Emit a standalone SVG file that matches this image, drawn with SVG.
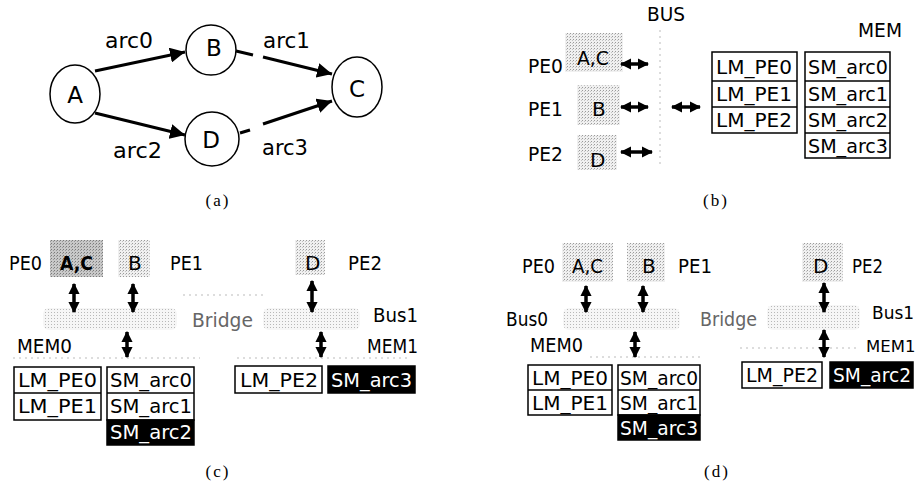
<svg xmlns="http://www.w3.org/2000/svg" width="921" height="487" viewBox="0 0 921 487">
<defs>
<style>
.t{font-family:"DejaVu Sans","Liberation Sans",sans-serif;font-size:20px;fill:#000}
.lbl{font-family:"DejaVu Sans","Liberation Sans",sans-serif;font-size:21px;fill:#000}
.node{font-family:"DejaVu Sans","Liberation Sans",sans-serif;font-size:23px;fill:#000;text-anchor:middle}
.bx{font-family:"DejaVu Sans","Liberation Sans",sans-serif;font-size:20px;fill:#000}
.inv{fill:#fff}
.cap{font-family:"Liberation Serif",serif;font-size:17px;letter-spacing:2px;fill:#000;text-anchor:middle}
.circ{fill:#fff;stroke:#000;stroke-width:1.5}
.cell{fill:#fff;stroke:#000;stroke-width:1.5}
.blk{fill:#000;stroke:#000;stroke-width:1.5}
.arc{stroke:#000;stroke-width:3;fill:none}
.dbl{stroke:#000;stroke-width:3.5;fill:none;marker-start:url(#dh);marker-end:url(#dh)}
.gray1{fill:url(#dots)}
.gray2{fill:url(#dotsDark)}
.cloud{fill:url(#dotsLight)}
.faint{stroke:#bbb;stroke-width:1;stroke-dasharray:2 4;fill:none}
.gtxt{fill:#666}
</style>
<marker id="ah" viewBox="0 0 10 10" refX="10" refY="5" markerWidth="5" markerHeight="5" markerUnits="strokeWidth" orient="auto">
<path d="M0,0 L10,5 L0,10 Z" fill="#000"/>
</marker>
<marker id="dh" viewBox="0 0 10 10" refX="9" refY="5" markerWidth="3.2" markerHeight="3.4" markerUnits="strokeWidth" orient="auto-start-reverse">
<path d="M0,0 L10,5 L0,10 Z" fill="#000"/>
</marker>
<pattern id="dots" width="3" height="3" patternUnits="userSpaceOnUse">
<rect width="3" height="3" fill="#f0f0f0"/>
<rect width="1" height="1" fill="#9a9a9a"/>
<rect x="2" y="1" width="1" height="1" fill="#c4c4c4"/>
</pattern>
<pattern id="dotsDark" width="3" height="3" patternUnits="userSpaceOnUse">
<rect width="3" height="3" fill="#c8c8c8"/>
<rect width="1" height="1" fill="#7a7a7a"/>
<rect x="2" y="1" width="1" height="1" fill="#999"/>
</pattern>
<pattern id="dotsLight" width="3" height="3" patternUnits="userSpaceOnUse">
<rect width="3" height="3" fill="#f6f6f6"/>
<rect width="1" height="1" fill="#b8b8b8"/>
</pattern>
</defs>
<rect width="921" height="487" fill="#fff"/>

<!-- Panel (a) -->
<g id="a-nodes">
<g id="a-A"><ellipse class="circ" cx="75" cy="94" rx="25" ry="29"/><text class="node" x="75" y="103">A</text></g>
<g id="a-B"><ellipse class="circ" cx="211" cy="50" rx="25" ry="25"/><text class="node" x="214" y="56">B</text></g>
<g id="a-D"><ellipse class="circ" cx="212" cy="139" rx="27" ry="27"/><text class="node" x="211" y="148">D</text></g>
<g id="a-C"><ellipse class="circ" cx="357" cy="87" rx="25" ry="30"/><text class="node" x="357" y="97">C</text></g>
</g>
<g id="a-connectors">
<line class="arc" x1="95" y1="71" x2="185" y2="52" marker-end="url(#ah)"/>
<line class="arc" x1="95" y1="113" x2="185" y2="135" marker-end="url(#ah)"/>
<line class="arc" x1="236" y1="51" x2="253" y2="55"/>
<line class="arc" x1="263" y1="57" x2="332" y2="74" marker-end="url(#ah)"/>
<line class="arc" x1="240" y1="133" x2="250" y2="130"/>
<line class="arc" x1="263" y1="124" x2="332" y2="101" marker-end="url(#ah)"/>
</g>
<g id="a-labels">
<text class="lbl" x="105" y="48" textLength="48" lengthAdjust="spacingAndGlyphs">arc0</text>
<text class="lbl" x="263" y="48" textLength="47" lengthAdjust="spacingAndGlyphs">arc1</text>
<text class="lbl" x="113" y="158" textLength="49" lengthAdjust="spacingAndGlyphs">arc2</text>
<text class="lbl" x="262" y="155" textLength="46" lengthAdjust="spacingAndGlyphs">arc3</text>
</g>
<text class="cap" x="218" y="206">(a)</text>

<!-- Panel (b) -->
<g id="b-bus">
<line class="faint" x1="660" y1="30" x2="660" y2="168"/>
<text class="t" x="647" y="21" textLength="38" lengthAdjust="spacingAndGlyphs">BUS</text>
</g>
<g id="b-PE0"><rect class="gray1" x="565" y="33" width="58" height="39"/><text class="t" x="528" y="73" textLength="35" lengthAdjust="spacingAndGlyphs">PE0</text><text class="t" x="577" y="65" textLength="32" lengthAdjust="spacingAndGlyphs">A,C</text></g>
<g id="b-PE1"><rect class="gray1" x="577" y="85" width="43" height="40"/><text class="t" x="528" y="116" textLength="35" lengthAdjust="spacingAndGlyphs">PE1</text><text class="t" x="592" y="116">B</text></g>
<g id="b-PE2"><rect class="gray1" x="577" y="135" width="40" height="35"/><text class="t" x="528" y="161" textLength="35" lengthAdjust="spacingAndGlyphs">PE2</text><text class="t" x="590" y="167">D</text></g>
<g id="b-MEM">
<text class="t" x="858" y="37" textLength="44" lengthAdjust="spacingAndGlyphs">MEM</text>
<rect class="cell" x="712" y="52" width="85" height="81"/>
<line class="cell" x1="712" y1="81" x2="797" y2="81"/>
<line class="cell" x1="712" y1="107" x2="797" y2="107"/>
<text class="bx" x="716" y="74" textLength="76" lengthAdjust="spacingAndGlyphs">LM_PE0</text>
<text class="bx" x="716" y="101" textLength="76" lengthAdjust="spacingAndGlyphs">LM_PE1</text>
<text class="bx" x="716" y="127" textLength="76" lengthAdjust="spacingAndGlyphs">LM_PE2</text>
<rect class="cell" x="805" y="52" width="85" height="106"/>
<line class="cell" x1="805" y1="81" x2="890" y2="81"/>
<line class="cell" x1="805" y1="107" x2="890" y2="107"/>
<line class="cell" x1="805" y1="133" x2="890" y2="133"/>
<text class="bx" x="808" y="74" textLength="80" lengthAdjust="spacingAndGlyphs">SM_arc0</text>
<text class="bx" x="808" y="101" textLength="80" lengthAdjust="spacingAndGlyphs">SM_arc1</text>
<text class="bx" x="808" y="127" textLength="80" lengthAdjust="spacingAndGlyphs">SM_arc2</text>
<text class="bx" x="808" y="153" textLength="80" lengthAdjust="spacingAndGlyphs">SM_arc3</text>
</g>
<g id="b-connectors">
<line class="dbl" x1="621" y1="64" x2="648" y2="64"/>
<line class="dbl" x1="621" y1="107" x2="648" y2="107"/>
<line class="dbl" x1="621" y1="152" x2="652" y2="152"/>
<line class="dbl" x1="672" y1="107" x2="700" y2="107"/>
</g>
<text class="cap" x="716" y="206">(b)</text>

<!-- Panel (c) -->
<g id="c-PE0"><rect class="gray2" x="50" y="240" width="53" height="37"/><text class="t" x="9" y="270" textLength="33" lengthAdjust="spacingAndGlyphs">PE0</text><text class="t" x="60" y="270" font-weight="bold" textLength="33" lengthAdjust="spacingAndGlyphs">A,C</text></g>
<g id="c-PE1"><rect class="gray1" x="118" y="240" width="32" height="37"/><text class="t" x="128" y="270">B</text><text class="t" x="170" y="270" textLength="33" lengthAdjust="spacingAndGlyphs">PE1</text></g>
<g id="c-PE2"><rect class="gray1" x="295" y="240" width="30" height="35"/><text class="t" x="305" y="270">D</text><text class="t" x="348" y="270" textLength="34" lengthAdjust="spacingAndGlyphs">PE2</text></g>
<g id="c-Bus0"><rect class="cloud" x="43" y="308" width="134" height="22" rx="6"/></g>
<g id="c-Bridge"><line class="faint" x1="183" y1="295" x2="267" y2="295"/><text class="t gtxt" x="192" y="327" textLength="61" lengthAdjust="spacingAndGlyphs">Bridge</text></g>
<g id="c-Bus1"><rect class="cloud" x="263" y="308" width="97" height="22" rx="6"/><text class="t" x="373" y="322" textLength="45" lengthAdjust="spacingAndGlyphs">Bus1</text></g>
<g id="c-MEM0">
<text class="t" x="17" y="353" textLength="55" lengthAdjust="spacingAndGlyphs">MEM0</text>
<line class="faint" x1="13" y1="358" x2="200" y2="358"/>
<rect class="cell" x="14" y="367" width="87" height="53"/>
<line class="cell" x1="14" y1="393" x2="101" y2="393"/>
<text class="bx" x="18" y="387" textLength="79" lengthAdjust="spacingAndGlyphs">LM_PE0</text>
<text class="bx" x="18" y="413" textLength="79" lengthAdjust="spacingAndGlyphs">LM_PE1</text>
<rect class="cell" x="107" y="367" width="87" height="53"/>
<line class="cell" x1="107" y1="393" x2="194" y2="393"/>
<rect class="blk" x="107" y="420" width="87" height="25"/>
<text class="bx" x="110" y="387" textLength="82" lengthAdjust="spacingAndGlyphs">SM_arc0</text>
<text class="bx" x="110" y="413" textLength="82" lengthAdjust="spacingAndGlyphs">SM_arc1</text>
<text class="bx inv" x="110" y="439" textLength="82" lengthAdjust="spacingAndGlyphs">SM_arc2</text>
</g>
<g id="c-MEM1">
<text class="t" x="367" y="353" textLength="51" lengthAdjust="spacingAndGlyphs">MEM1</text>
<line class="faint" x1="237" y1="358" x2="410" y2="358"/>
<rect class="cell" x="235" y="366" width="87" height="27"/>
<text class="bx" x="240" y="387" textLength="78" lengthAdjust="spacingAndGlyphs">LM_PE2</text>
<rect class="blk" x="328" y="366" width="87" height="27"/>
<text class="bx inv" x="331" y="387" textLength="81" lengthAdjust="spacingAndGlyphs">SM_arc3</text>
</g>
<g id="c-connectors">
<line class="dbl" x1="74" y1="284" x2="74" y2="312"/>
<line class="dbl" x1="133" y1="284" x2="133" y2="312"/>
<line class="dbl" x1="312" y1="281" x2="312" y2="312"/>
<line class="dbl" x1="127" y1="332" x2="127" y2="357"/>
<line class="dbl" x1="321" y1="332" x2="321" y2="357"/>
</g>
<text class="cap" x="218" y="477">(c)</text>

<!-- Panel (d) -->
<g id="d-PE0"><rect class="gray1" x="562" y="243" width="51" height="39"/><text class="t" x="522" y="273" textLength="33" lengthAdjust="spacingAndGlyphs">PE0</text><text class="t" x="572" y="273" textLength="31" lengthAdjust="spacingAndGlyphs">A,C</text></g>
<g id="d-PE1"><rect class="gray1" x="627" y="243" width="38" height="39"/><text class="t" x="642" y="273">B</text><text class="t" x="678" y="273" textLength="34" lengthAdjust="spacingAndGlyphs">PE1</text></g>
<g id="d-PE2"><rect class="gray1" x="802" y="243" width="41" height="39"/><text class="t" x="813" y="273">D</text><text class="t" x="852" y="273" textLength="31" lengthAdjust="spacingAndGlyphs">PE2</text></g>
<g id="d-Bus0"><rect class="cloud" x="563" y="308" width="117" height="22" rx="6"/><text class="t" x="506" y="326" textLength="42" lengthAdjust="spacingAndGlyphs">Bus0</text></g>
<g id="d-Bridge"><text class="t gtxt" x="700" y="326" textLength="57" lengthAdjust="spacingAndGlyphs">Bridge</text></g>
<g id="d-Bus1"><rect class="cloud" x="767" y="305" width="93" height="25" rx="6"/><text class="t" x="872" y="319" style="font-size:17px">Bus1</text></g>
<g id="d-MEM0">
<text class="t" x="530" y="352" textLength="53" lengthAdjust="spacingAndGlyphs">MEM0</text>
<line class="faint" x1="590" y1="357" x2="700" y2="357"/>
<rect class="cell" x="528" y="365" width="84" height="50"/>
<line class="cell" x1="528" y1="390" x2="612" y2="390"/>
<text class="bx" x="532" y="385" textLength="76" lengthAdjust="spacingAndGlyphs">LM_PE0</text>
<text class="bx" x="532" y="410" textLength="76" lengthAdjust="spacingAndGlyphs">LM_PE1</text>
<rect class="cell" x="618" y="365" width="82" height="50"/>
<line class="cell" x1="618" y1="390" x2="700" y2="390"/>
<rect class="blk" x="618" y="415" width="82" height="25"/>
<text class="bx" x="620" y="385" textLength="78" lengthAdjust="spacingAndGlyphs">SM_arc0</text>
<text class="bx" x="620" y="410" textLength="78" lengthAdjust="spacingAndGlyphs">SM_arc1</text>
<text class="bx inv" x="620" y="435" textLength="78" lengthAdjust="spacingAndGlyphs">SM_arc3</text>
</g>
<g id="d-MEM1">
<text class="t" x="866" y="352" style="font-size:16.5px">MEM1</text>
<line class="faint" x1="740" y1="348" x2="860" y2="348"/>
<rect class="cell" x="742" y="362" width="80" height="26"/>
<text class="bx" x="746" y="382" textLength="72" lengthAdjust="spacingAndGlyphs">LM_PE2</text>
<rect class="blk" x="830" y="362" width="83" height="26"/>
<text class="bx inv" x="833" y="382" textLength="78" lengthAdjust="spacingAndGlyphs">SM_arc2</text>
</g>
<g id="d-connectors">
<line class="dbl" x1="586" y1="286" x2="586" y2="312"/>
<line class="dbl" x1="643" y1="286" x2="643" y2="312"/>
<line class="dbl" x1="824" y1="283" x2="824" y2="312"/>
<line class="dbl" x1="635" y1="332" x2="635" y2="357"/>
<line class="dbl" x1="824" y1="330" x2="824" y2="357"/>
</g>
<text class="cap" x="717" y="477">(d)</text>
</svg>
